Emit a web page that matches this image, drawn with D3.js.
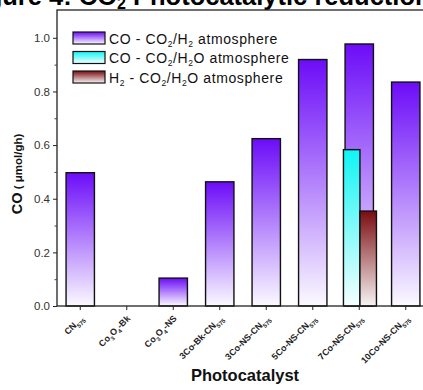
<!DOCTYPE html>
<html>
<head>
<meta charset="utf-8">
<script src="https://cdn.jsdelivr.net/npm/d3@7"></script>
<style>
  body { margin: 0; background: #fff; }
  svg { display: block; font-family: Arial, "Liberation Sans", sans-serif; }
</style>
</head>
<body>
<div id="container"></div>
<script>
// categories, braces mark subscripts
const categories = ['CN{575}', 'Co{3}O{4}-Bk', 'Co{3}O{4}-NS', '3Co-Bk-CN{575}', '3Co-NS-CN{575}',
                    '5Co-NS-CN{575}', '7Co-NS-CN{575}', '10Co-NS-CN{575}'];
// CO rate under CO2/H2 atmosphere
const coH2 = [0.497, 0, 0.104, 0.463, 0.624, 0.919, 0.977, 0.835];
// CO and H2 rates under CO2/H2O atmosphere (7Co-NS-CN only)
const coH2O = [null, null, null, null, null, null, 0.583, null];
const h2H2O = [null, null, null, null, null, null, 0.354, null];
const yTicks = [0, 0.2, 0.4, 0.6, 0.8, 1.0];
const legendLabels = ['CO - CO{2}/H{2} atmosphere', 'CO - CO{2}/H{2}O atmosphere', 'H{2} - CO{2}/H{2}O atmosphere'];

// chart dimensions
const w = 423, h = 390;
const pLeft = 57, pTop = 10, pRight = 429, pBottom = 306;

const svg = d3.select('#container')
    .append('svg')
    .attr('width', w)
    .attr('height', h);

// gradients
const defs = svg.append('defs');
function grad(id, c1, c2) {
    const g = defs.append('linearGradient')
        .attr('id', id)
        .attr('x1', 0).attr('y1', 0).attr('x2', 0).attr('y2', 1);
    g.append('stop').attr('offset', '0%').attr('stop-color', c1);
    g.append('stop').attr('offset', '100%').attr('stop-color', c2);
}
grad('gPurple', '#6c0cf8', '#fbfaff');
grad('gCyan', '#10f4f4', '#f6ffff');
grad('gBrown', '#7a0c10', '#f7f4f4');
const fills = ['url(#gPurple)', 'url(#gCyan)', 'url(#gBrown)'];

// add text with {subscript} parts
function richText(sel, str, subSize, shift = 3) {
    const parts = str.split(/(\{[^}]*\})/).filter(d => d !== '');
    let inSub = false;
    parts.forEach(p => {
        if (p.startsWith('{')) {
            sel.append('tspan').attr('font-size', subSize).attr('dy', inSub ? 0 : shift).text(p.slice(1, -1));
            inSub = true;
        } else {
            sel.append('tspan').attr('dy', inSub ? -shift : 0).text(p);
            inSub = false;
        }
    });
}

// scales
const xScale = d3.scaleBand()
    .domain(categories)
    .range([pLeft, pRight])
    .paddingInner(0.39)
    .paddingOuter(0.195);

const yScale = d3.scaleLinear()
    .domain([0, 1.1])
    .range([pBottom, pTop + 1]);

// title (cropped at top, as in the source image)
const title = svg.append('text')
    .attr('x', -36)
    .attr('y', 5)
    .attr('font-size', 25.5)
    .attr('font-weight', 'bold');
richText(title, 'Figure 4: CO{2} Photocatalytic reduction', 16, 4);

// main bars
svg.append('g').selectAll('rect')
    .data(categories.map((c, i) => ({ c, v: coH2[i] })).filter(d => d.v > 0))
    .join('rect')
    .attr('x', d => xScale(d.c))
    .attr('y', d => yScale(d.v))
    .attr('width', xScale.bandwidth())
    .attr('height', d => pBottom - yScale(d.v))
    .attr('fill', fills[0])
    .attr('stroke', '#111')
    .attr('stroke-width', 1.4);

// side-by-side bars for CO2/H2O atmosphere
const sub = d3.scaleBand()
    .domain([0, 1])
    .range([-16.5, 16.5]);

[coH2O, h2H2O].forEach((arr, k) => {
    svg.append('g').selectAll('rect')
        .data(categories.map((c, i) => ({ c, v: arr[i] })).filter(d => d.v != null))
        .join('rect')
        .attr('x', d => xScale(d.c) + xScale.bandwidth() / 2 + 0.7 + sub(k))
        .attr('y', d => yScale(d.v))
        .attr('width', sub.bandwidth())
        .attr('height', d => pBottom - yScale(d.v))
        .attr('fill', fills[k + 1])
        .attr('stroke', '#111')
        .attr('stroke-width', 1.4);
});

// frame
svg.append('rect')
    .attr('x', pLeft).attr('y', pTop)
    .attr('width', pRight - pLeft).attr('height', pBottom - pTop)
    .attr('fill', 'none')
    .attr('stroke', '#222')
    .attr('stroke-width', 1.3);

// y axis
const yAxis = d3.axisLeft(yScale)
    .tickValues(yTicks)
    .tickFormat(d3.format('.1f'))
    .tickSize(4)
    .tickPadding(3);
const ga = svg.append('g')
    .attr('transform', `translate(${pLeft}, 0)`)
    .call(yAxis);
ga.select('.domain').remove();
ga.selectAll('text').attr('font-size', 11.5).attr('fill', '#333').attr('font-family', 'Arial, "Liberation Sans", sans-serif');
ga.selectAll('line').attr('stroke', '#222');

// minor y ticks
svg.append('g')
    .attr('transform', `translate(${pLeft}, 0)`)
    .call(d3.axisLeft(yScale).tickValues([0.1, 0.3, 0.5, 0.7, 0.9]).tickSize(2.5).tickFormat(''))
    .call(g => g.select('.domain').remove())
    .selectAll('line').attr('stroke', '#444');

// x axis
const xa = svg.append('g')
    .attr('transform', `translate(0, ${pBottom})`)
    .call(d3.axisBottom(xScale).tickSize(4).tickFormat(''));
xa.select('.domain').remove();
xa.selectAll('line').attr('stroke', '#222');

// rotated category labels
svg.append('g').selectAll('text')
    .data(categories)
    .join('text')
    .attr('transform', d => `translate(${xScale(d) + xScale.bandwidth() / 2 + 4}, ${pBottom + 13}) rotate(-45)`)
    .attr('text-anchor', 'end')
    .attr('font-size', 9)
    .attr('font-weight', 'bold')
    .attr('fill', '#222')
    .each(function (d) { richText(d3.select(this), d, 6); });

// axis titles
svg.append('text')
    .attr('x', 245)
    .attr('y', 381)
    .attr('text-anchor', 'middle')
    .attr('font-size', 16.5)
    .attr('font-weight', 'bold')
    .attr('fill', '#111')
    .text('Photocatalyst');

const yt = svg.append('text')
    .attr('transform', 'translate(22, 174) rotate(-90)')
    .attr('text-anchor', 'middle')
    .attr('font-weight', 'bold')
    .attr('fill', '#111');
yt.append('tspan').attr('font-size', 14.5).text('CO');
yt.append('tspan').attr('font-size', 11.5).text(' ( μmol/gh)');

// legend
const lg = svg.append('g').attr('transform', 'translate(73, 32)');
legendLabels.forEach((lab, i) => {
    const row = lg.append('g').attr('transform', `translate(0, ${i * 19.5})`);
    row.append('rect')
        .attr('width', 32).attr('height', 12)
        .attr('fill', fills[i])
        .attr('stroke', '#111')
        .attr('stroke-width', 1.2);
    const t = row.append('text')
        .attr('x', 36).attr('y', 11.5)
        .attr('font-size', 14)
        .attr('letter-spacing', 0.6)
        .attr('fill', '#111');
    richText(t, lab, 8.5);
});
</script>
</body>
</html>
